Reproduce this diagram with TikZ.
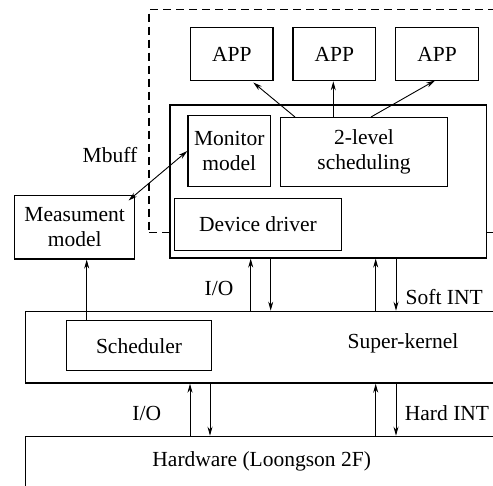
\documentclass[tikz,border=0pt]{standalone}
\usepackage{fontspec}
\setmainfont{Liberation Serif}
\usetikzlibrary{arrows.meta}
\begin{document}
\begin{tikzpicture}[x=1pt,y=-1pt,
  box/.style={draw, line width=1.3pt, inner sep=0pt, anchor=north west, align=center, font=\rmfamily\fontsize{21.5}{25}\selectfont},
  lbl/.style={font=\rmfamily\fontsize{21.5}{25}\selectfont, inner sep=0pt, align=center},
  arr/.style={line width=0.9pt, -{Stealth[length=9pt,width=5pt]}},
  darr/.style={line width=0.9pt, {Stealth[length=9pt,width=5pt]}-{Stealth[length=9pt,width=5pt]}}]
\useasboundingbox (0,0) rectangle (493,486);
\clip (0,0) rectangle (493,486);

% dashed domain
\node[box, dash pattern=on 8pt off 5pt, line width=1.5pt, minimum width=452pt, minimum height=223pt] (dom) at (148,9) {};

% apps
\node[box, minimum width=82.3pt, minimum height=53.3pt] (app1) at (190,26.7) {APP};
\node[box, minimum width=82.7pt, minimum height=53.3pt] (app2) at (292.3,26.7) {APP};
\node[box, minimum width=82.7pt, minimum height=53.3pt] (app3) at (395,26.7) {APP};

% OS box
\node[box, fill=white, minimum width=316.7pt, minimum height=153pt] (os) at (169.3,104.3) {};
\node[box, minimum width=82.7pt, minimum height=70.7pt] (mon) at (187.3,115) {Monitor\\model};
\node[box, minimum width=166.7pt, minimum height=68.7pt] (two) at (280,117) {2-level\\scheduling};
\node[box, minimum width=166.7pt, minimum height=52.3pt] (dev) at (174,197.7) {Device driver};

% measurement
\node[box, minimum width=120pt, minimum height=63.3pt] (meas) at (14,195) {Measument\\model};

% super-kernel
\node[box, minimum width=520pt, minimum height=71.7pt] (sk) at (25,310.7) {};
\node[box, minimum width=144.7pt, minimum height=50pt] (sch) at (66,320) {Scheduler};
\node[lbl] (sklbl) at (403,343.3) {Super-kernel};

% hardware
\node[box, minimum width=520pt, minimum height=100pt] (hw) at (25,435.7) {};
\node[lbl] (hwlbl) at (261.7,461.7) {Hardware (Loongson 2F)};

% labels
\node[lbl] (mbuff) at (110,155) {Mbuff};
\node[lbl] (io1) at (219,288.3) {I/O};
\node[lbl] (soft) at (444.2,296.7) {Soft INT};
\node[lbl] (io2) at (146.7,413.3) {I/O};
\node[lbl] (hard) at (447,413.3) {Hard INT};

% coordinates
\coordinate (xa) at (86.7,0);
\coordinate (xb) at (250.7,0);
\coordinate (xc) at (270.7,0);
\coordinate (xd) at (375.7,0);
\coordinate (xe) at (396,0);
\coordinate (xf) at (190,0);
\coordinate (xg) at (210,0);
\coordinate (s1) at (295,117);
\coordinate (s2) at (333.3,117);
\coordinate (s3) at (371,117);
\coordinate (t1) at (253.3,82.5);
\coordinate (t3) at (435,80.5);
\coordinate (mb1) at (128.5,200.5);
\coordinate (mb2) at (187.3,151);

% arrows
\draw[arr] (s1) -- (t1);
\draw[arr] (s2) -- (app2.south -| s2);
\draw[arr] (s3) -- (t3);
\draw[darr] (mb1) -- (mb2);
\draw[arr] (sch.north -| xa) -- (meas.south -| xa);
\draw[arr] (sk.north -| xb) -- (os.south -| xb);
\draw[arr] (os.south -| xc) -- (sk.north -| xc);
\draw[arr] (sk.north -| xd) -- (os.south -| xd);
\draw[arr] (os.south -| xe) -- (sk.north -| xe);
\draw[arr] (hw.north -| xf) -- (sk.south -| xf);
\draw[arr] (sk.south -| xg) -- (hw.north -| xg);
\draw[arr] (hw.north -| xd) -- (sk.south -| xd);
\draw[arr] (sk.south -| xe) -- (hw.north -| xe);
\end{tikzpicture}
\end{document}
